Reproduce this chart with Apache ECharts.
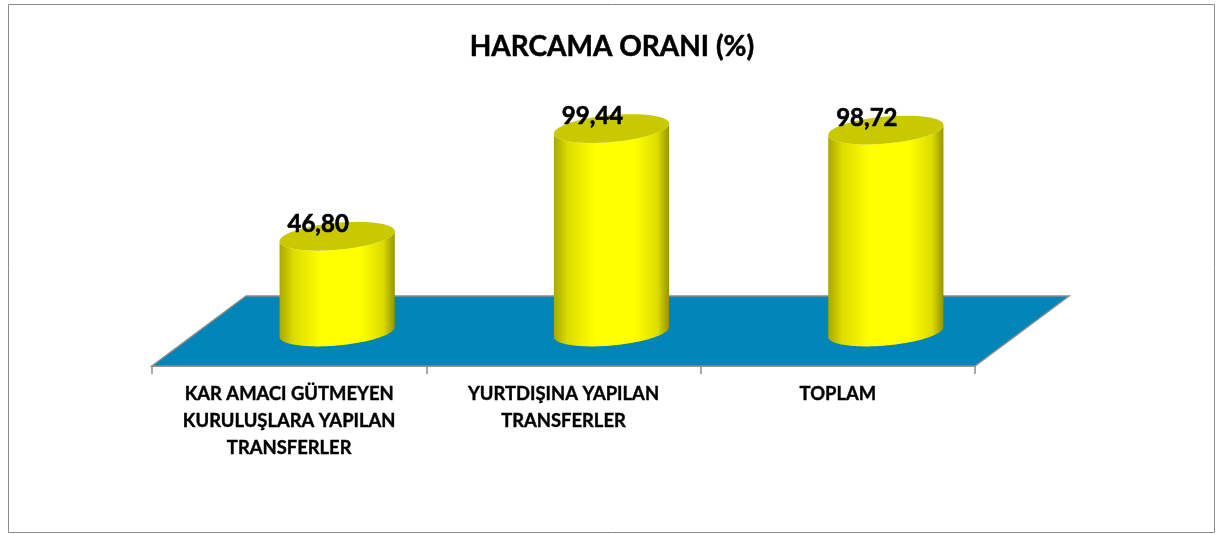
<!DOCTYPE html>
<html><head><meta charset="utf-8">
<style>html,body{margin:0;padding:0;background:#fff}#c{width:1218px;height:534px}</style>
<script src="https://cdn.jsdelivr.net/npm/echarts@6/dist/echarts.min.js"></script>
</head><body><div id="c"></div>
<script>
const chartTitle = 'HARCAMA ORANI (%)';
const categories = ['KAR AMACI GÜTMEYEN\nKURULUŞLARA YAPILAN\nTRANSFERLER', 'YURTDIŞINA YAPILAN\nTRANSFERLER', 'TOPLAM'];
const values = [46.80, 99.44, 98.72];
const valueLabels = ['46,80', '99,44', '98,72'];

const FONT = 'Lato, "Noto Sans", sans-serif';
const DEPTH_X = 94, DEPTH_Y = 70;
const CYL_DX = 48, CYL_DY = -34, CYL_WIDTH = 0.21, TILT = 5, RY = 13.5;

function ell(cx, cy, a, t) {
  return [cx + a * Math.cos(t), cy - TILT * Math.cos(t) + RY * Math.sin(t)];
}
function renderCylinder(params, api) {
  const idx = api.value(0);
  const base = api.coord([idx, 0]);
  const top = api.coord([idx, api.value(1)]);
  const a = api.size([1, 0])[0] * CYL_WIDTH;
  const cx = base[0] + CYL_DX, by = base[1] + CYL_DY, ty = top[1] + CYL_DY;
  const N = 72, body = [], cap = [];
  for (let i = 0; i <= N; i++) body.push(ell(cx, by, a, Math.PI - Math.PI * i / N));
  for (let i = 0; i <= N; i++) body.push(ell(cx, ty, a, Math.PI * i / N));
  for (let i = 0; i < N * 2; i++) cap.push(ell(cx, ty, a, Math.PI * i / N));
  return {
    type: 'group',
    children: [
      { type: 'polygon', shape: { points: body }, style: {
        fill: new echarts.graphic.LinearGradient(0, 0, 1, 0, [
          { offset: 0, color: '#a8a800' }, { offset: 0.12, color: '#dcdc00' },
          { offset: 0.36, color: '#ffff00' }, { offset: 0.7, color: '#ffff00' },
          { offset: 0.9, color: '#dcdc00' }, { offset: 1, color: '#949400' }
        ]) } },
      { type: 'polygon', shape: { points: cap }, style: { fill: '#c9c900' } },
      { type: 'text', style: {
          text: valueLabels[idx], x: cx - 19, y: ty - 12, align: 'center', verticalAlign: 'middle',
          font: 'bold 24px ' + FONT, fill: '#000', stroke: '#000', lineWidth: 0.6 } }
    ]
  };
}
function renderFloor(params, api) {
  const g = params.coordSys;
  const x0 = g.x, x1 = g.x + g.width, y = g.y + g.height;
  return { type: 'polygon',
    shape: { points: [[x0, y], [x1, y], [x1 + DEPTH_X, y - DEPTH_Y], [x0 + DEPTH_X, y - DEPTH_Y]] },
    style: { fill: '#0085b8', stroke: '#8c8c8c', lineWidth: 1.5 } };
}
const chart = echarts.init(document.getElementById('c'), null, { renderer: 'canvas' });
chart.setOption({
  animation: false,
  backgroundColor: '#fff',
  title: { text: chartTitle, left: 607, top: 28, textAlign: 'center',
    textStyle: { fontFamily: FONT, fontSize: 28, fontWeight: 'bold', color: '#000', textBorderColor: '#000', textBorderWidth: 0.5 } },
  graphic: [{ type: 'rect', shape: { x: 8.5, y: 4.5, width: 1206, height: 528 },
    style: { fill: 'none', stroke: '#8c8c8c', lineWidth: 1 }, silent: true }],
  grid: { left: 152, width: 823, top: 120.5, height: 245.5 },
  xAxis: { type: 'category', data: categories,
    axisLine: { lineStyle: { color: '#8c8c8c', width: 1.5 } },
    axisTick: { show: true, length: 8, alignWithLabel: false, lineStyle: { color: '#8c8c8c', width: 1.5 } },
    axisLabel: { interval: 0, margin: 15, fontFamily: FONT, fontSize: 18.4, fontWeight: 'bold', color: '#000', lineHeight: 27, textBorderColor: '#000', textBorderWidth: 0.4 } },
  yAxis: { type: 'value', min: 0, max: 120, show: false, splitLine: { show: false } },
  series: [
    { type: 'custom', z: 1, renderItem: renderFloor, data: [[0, 0]], silent: true },
    { type: 'custom', z: 2, renderItem: renderCylinder,
      data: values.map((v, i) => [i, v]), encode: { x: 0, y: 1 } }
  ]
});
</script></body></html>
